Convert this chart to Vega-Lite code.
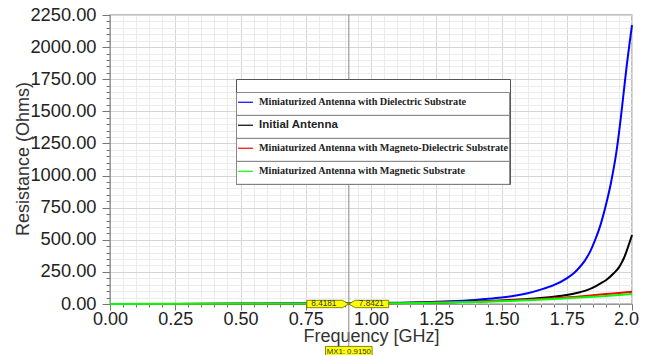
{
  "$schema": "https://vega.github.io/schema/vega-lite/v6.json",
  "width": 522,
  "height": 289,
  "autosize": {"type": "none"},
  "padding": {"left": 110, "top": 15, "right": 29, "bottom": 51},
  "background": "white",
  "config": {"view": {"stroke": "#aaaaaa", "strokeWidth": 1.5}},
  "datasets": {
    "curves": [
      {"s": "Miniaturized Antenna with Dielectric Substrate", "f": 0, "r": 0},
      {"s": "Miniaturized Antenna with Dielectric Substrate", "f": 0.25, "r": 0.5},
      {"s": "Miniaturized Antenna with Dielectric Substrate", "f": 0.5, "r": 1.5},
      {"s": "Miniaturized Antenna with Dielectric Substrate", "f": 0.75, "r": 3.5},
      {"s": "Miniaturized Antenna with Dielectric Substrate", "f": 1.0, "r": 7},
      {"s": "Miniaturized Antenna with Dielectric Substrate", "f": 1.1, "r": 10},
      {"s": "Miniaturized Antenna with Dielectric Substrate", "f": 1.2, "r": 14},
      {"s": "Miniaturized Antenna with Dielectric Substrate", "f": 1.3, "r": 21},
      {"s": "Miniaturized Antenna with Dielectric Substrate", "f": 1.4, "r": 32},
      {"s": "Miniaturized Antenna with Dielectric Substrate", "f": 1.45, "r": 40},
      {"s": "Miniaturized Antenna with Dielectric Substrate", "f": 1.5, "r": 50},
      {"s": "Miniaturized Antenna with Dielectric Substrate", "f": 1.55, "r": 64},
      {"s": "Miniaturized Antenna with Dielectric Substrate", "f": 1.6, "r": 84},
      {"s": "Miniaturized Antenna with Dielectric Substrate", "f": 1.65, "r": 112},
      {"s": "Miniaturized Antenna with Dielectric Substrate", "f": 1.7, "r": 147},
      {"s": "Miniaturized Antenna with Dielectric Substrate", "f": 1.75, "r": 200},
      {"s": "Miniaturized Antenna with Dielectric Substrate", "f": 1.78, "r": 245},
      {"s": "Miniaturized Antenna with Dielectric Substrate", "f": 1.8, "r": 288},
      {"s": "Miniaturized Antenna with Dielectric Substrate", "f": 1.82, "r": 340},
      {"s": "Miniaturized Antenna with Dielectric Substrate", "f": 1.84, "r": 410},
      {"s": "Miniaturized Antenna with Dielectric Substrate", "f": 1.86, "r": 505},
      {"s": "Miniaturized Antenna with Dielectric Substrate", "f": 1.88, "r": 620},
      {"s": "Miniaturized Antenna with Dielectric Substrate", "f": 1.9, "r": 770},
      {"s": "Miniaturized Antenna with Dielectric Substrate", "f": 1.92, "r": 950},
      {"s": "Miniaturized Antenna with Dielectric Substrate", "f": 1.94, "r": 1180},
      {"s": "Miniaturized Antenna with Dielectric Substrate", "f": 1.95, "r": 1330},
      {"s": "Miniaturized Antenna with Dielectric Substrate", "f": 1.96, "r": 1500},
      {"s": "Miniaturized Antenna with Dielectric Substrate", "f": 1.97, "r": 1680},
      {"s": "Miniaturized Antenna with Dielectric Substrate", "f": 1.98, "r": 1860},
      {"s": "Miniaturized Antenna with Dielectric Substrate", "f": 1.99, "r": 2020},
      {"s": "Miniaturized Antenna with Dielectric Substrate", "f": 2.0, "r": 2172},
      {"s": "Initial Antenna", "f": 0, "r": 0},
      {"s": "Initial Antenna", "f": 0.25, "r": 0.3},
      {"s": "Initial Antenna", "f": 0.5, "r": 1},
      {"s": "Initial Antenna", "f": 0.75, "r": 2.5},
      {"s": "Initial Antenna", "f": 1.0, "r": 5},
      {"s": "Initial Antenna", "f": 1.1, "r": 7},
      {"s": "Initial Antenna", "f": 1.2, "r": 10},
      {"s": "Initial Antenna", "f": 1.3, "r": 14},
      {"s": "Initial Antenna", "f": 1.4, "r": 20},
      {"s": "Initial Antenna", "f": 1.5, "r": 28},
      {"s": "Initial Antenna", "f": 1.55, "r": 33},
      {"s": "Initial Antenna", "f": 1.6, "r": 39},
      {"s": "Initial Antenna", "f": 1.66, "r": 49},
      {"s": "Initial Antenna", "f": 1.7, "r": 57},
      {"s": "Initial Antenna", "f": 1.75, "r": 70},
      {"s": "Initial Antenna", "f": 1.8, "r": 92},
      {"s": "Initial Antenna", "f": 1.83, "r": 110},
      {"s": "Initial Antenna", "f": 1.86, "r": 138},
      {"s": "Initial Antenna", "f": 1.88, "r": 161},
      {"s": "Initial Antenna", "f": 1.9, "r": 185},
      {"s": "Initial Antenna", "f": 1.93, "r": 239},
      {"s": "Initial Antenna", "f": 1.95, "r": 285},
      {"s": "Initial Antenna", "f": 1.96, "r": 320},
      {"s": "Initial Antenna", "f": 1.97, "r": 362},
      {"s": "Initial Antenna", "f": 1.98, "r": 415},
      {"s": "Initial Antenna", "f": 1.99, "r": 475},
      {"s": "Initial Antenna", "f": 2.0, "r": 537},
      {"s": "Miniaturized Antenna with Magneto-Dielectric Substrate", "f": 0, "r": 0},
      {"s": "Miniaturized Antenna with Magneto-Dielectric Substrate", "f": 0.5, "r": 1},
      {"s": "Miniaturized Antenna with Magneto-Dielectric Substrate", "f": 0.75, "r": 2},
      {"s": "Miniaturized Antenna with Magneto-Dielectric Substrate", "f": 1.0, "r": 4.5},
      {"s": "Miniaturized Antenna with Magneto-Dielectric Substrate", "f": 1.2, "r": 9},
      {"s": "Miniaturized Antenna with Magneto-Dielectric Substrate", "f": 1.3, "r": 13},
      {"s": "Miniaturized Antenna with Magneto-Dielectric Substrate", "f": 1.4, "r": 18},
      {"s": "Miniaturized Antenna with Magneto-Dielectric Substrate", "f": 1.47, "r": 23},
      {"s": "Miniaturized Antenna with Magneto-Dielectric Substrate", "f": 1.5, "r": 25},
      {"s": "Miniaturized Antenna with Magneto-Dielectric Substrate", "f": 1.6, "r": 34},
      {"s": "Miniaturized Antenna with Magneto-Dielectric Substrate", "f": 1.7, "r": 45},
      {"s": "Miniaturized Antenna with Magneto-Dielectric Substrate", "f": 1.8, "r": 59},
      {"s": "Miniaturized Antenna with Magneto-Dielectric Substrate", "f": 1.85, "r": 68},
      {"s": "Miniaturized Antenna with Magneto-Dielectric Substrate", "f": 1.9, "r": 77},
      {"s": "Miniaturized Antenna with Magneto-Dielectric Substrate", "f": 1.95, "r": 86},
      {"s": "Miniaturized Antenna with Magneto-Dielectric Substrate", "f": 2.0, "r": 96},
      {"s": "Miniaturized Antenna with Magnetic Substrate", "f": 0, "r": 0},
      {"s": "Miniaturized Antenna with Magnetic Substrate", "f": 0.5, "r": 1},
      {"s": "Miniaturized Antenna with Magnetic Substrate", "f": 0.75, "r": 2},
      {"s": "Miniaturized Antenna with Magnetic Substrate", "f": 1.0, "r": 4},
      {"s": "Miniaturized Antenna with Magnetic Substrate", "f": 1.2, "r": 8.5},
      {"s": "Miniaturized Antenna with Magnetic Substrate", "f": 1.3, "r": 12},
      {"s": "Miniaturized Antenna with Magnetic Substrate", "f": 1.4, "r": 16},
      {"s": "Miniaturized Antenna with Magnetic Substrate", "f": 1.47, "r": 20},
      {"s": "Miniaturized Antenna with Magnetic Substrate", "f": 1.5, "r": 22},
      {"s": "Miniaturized Antenna with Magnetic Substrate", "f": 1.6, "r": 29},
      {"s": "Miniaturized Antenna with Magnetic Substrate", "f": 1.72, "r": 41},
      {"s": "Miniaturized Antenna with Magnetic Substrate", "f": 1.85, "r": 57},
      {"s": "Miniaturized Antenna with Magnetic Substrate", "f": 1.9, "r": 63},
      {"s": "Miniaturized Antenna with Magnetic Substrate", "f": 1.95, "r": 70},
      {"s": "Miniaturized Antenna with Magnetic Substrate", "f": 2.0, "r": 78}
    ],
    "marker": [
      {"f": 0.915, "r": 0, "left": "8.4181", "right": "7.8421", "mx": "MX1: 0.9150"}
    ]
  },
  "resolve": {"axis": {"x": "independent", "y": "independent"}},
  "layer": [
    {
      "data": {"name": "curves"},
      "mark": {"type": "line", "strokeWidth": 2, "interpolate": "monotone"},
      "encoding": {
        "x": {
          "field": "f", "type": "quantitative",
          "scale": {"domain": [0, 2], "nice": false, "zero": false},
          "axis": {
            "orient": "bottom",
            "values": [0,0.05,0.1,0.15,0.2,0.25,0.3,0.35,0.4,0.45,0.5,0.55,0.6,0.65,0.7,0.75,0.8,0.85,0.9,0.95,1,1.05,1.1,1.15,1.2,1.25,1.3,1.35,1.4,1.45,1.5,1.55,1.6,1.65,1.7,1.75,1.8,1.85,1.9,1.95,2],
            "labels": false, "domain": false, "title": null,
            "tickSize": 3, "tickColor": "#777777",
            "grid": true, "gridColor": "#ececec"
          }
        },
        "y": {
          "field": "r", "type": "quantitative",
          "scale": {"domain": [0, 2250], "nice": false},
          "axis": {
            "orient": "left",
            "values": [0,50,100,150,200,250,300,350,400,450,500,550,600,650,700,750,800,850,900,950,1000,1050,1100,1150,1200,1250,1300,1350,1400,1450,1500,1550,1600,1650,1700,1750,1800,1850,1900,1950,2000,2050,2100,2150,2200,2250],
            "labels": false, "domain": false, "title": null,
            "tickSize": 4, "tickColor": "#777777",
            "grid": true, "gridColor": "#ececec"
          }
        },
        "color": {
          "field": "s", "type": "nominal",
          "scale": {
            "domain": ["Miniaturized Antenna with Dielectric Substrate", "Initial Antenna", "Miniaturized Antenna with Magneto-Dielectric Substrate", "Miniaturized Antenna with Magnetic Substrate"],
            "range": ["#0000ff", "#000000", "#ff0000", "#00ff00"]
          },
          "legend": {
            "orient": "none", "legendX": 126, "legendY": 64,
            "title": " ", "titleFontSize": 10, "titlePadding": 3,
            "padding": 0,
            "fillColor": "white", "strokeColor": "#555555",
            "symbolType": "M0,-0.92M-0.71,0L0.71,0M0,0.92", "symbolSize": 441, "symbolStrokeWidth": 1.2,
            "symbolFillColor": "transparent",
            "labelFont": "Liberation Serif", "labelFontWeight": "bold", "labelFontSize": 10.2,
            "labelColor": "#222222", "labelLimit": 400, "labelOffset": 6,
            "rowPadding": -9.5,
            "encode": {
              "entries": {
                "update": {
                  "stroke": {"value": "#8a8a8a"},
                  "strokeWidth": {"value": 1},
                  "width": {"value": 273},
                  "height": {"value": 20.5}
                }
              },
              "symbols": {
                "update": {"y": {"value": 10.25}, "x": {"value": 9.5}}
              },
              "labels": {
                "update": {
                  "y": {"value": 10.25},
                  "x": {"value": 23},
                  "font": {"signal": "datum.label === 'Initial Antenna' ? 'Liberation Sans' : 'Liberation Serif'"},
                  "fontSize": {"signal": "datum.label === 'Initial Antenna' ? 11.5 : 10.2"}
                }
              }
            }
          }
        }
      }
    },
    {
      "data": {"name": "marker"},
      "mark": {"type": "rule", "color": "#8a8a8a", "strokeWidth": 1, "y2Offset": 43},
      "encoding": {
        "x": {"field": "f", "type": "quantitative", "scale": {"domain": [0, 2], "nice": false, "zero": false}, "axis": null},
        "y": {"datum": 2250, "type": "quantitative", "scale": {"domain": [0, 2250], "nice": false}, "axis": null},
        "y2": {"datum": 0}
      }
    },
    {
      "data": {"name": "marker"},
      "mark": {"type": "point", "shape": "M-2,-0.175L-0.31,-0.175L0,0L-0.31,0.175L-2,0.175Z", "size": 1764, "filled": true, "fill": "#ffff00", "stroke": "#666600", "strokeWidth": 0.8, "opacity": 1},
      "encoding": {
        "x": {
          "field": "f", "type": "quantitative",
          "scale": {"domain": [0, 2], "nice": false, "zero": false},
          "axis": {
            "orient": "bottom",
            "values": [0, 0.25, 0.5, 0.75, 1, 1.25, 1.5, 1.75, 2],
            "format": ".2f",
            "labelExpr": "datum.value == 2 ? '2.0' : datum.label",
            "labelFont": "Liberation Sans", "labelFontSize": 18, "labelColor": "#222222",
            "labelBaseline": "alphabetic", "labelPadding": 14.6,
            "labelOffset": {"condition": {"test": "datum.value == 2", "value": -6}, "value": 0},
            "labelFlush": false, "labelOverlap": false,
            "tickSize": 6, "tickColor": "#777777",
            "domainColor": "#999999",
            "grid": true, "gridColor": "#d6d6d6",
            "title": "Frequency [GHz]", "titleFont": "Liberation Sans", "titleFontSize": 18,
            "titleFontWeight": "normal", "titleColor": "#333333",
            "titleBaseline": "alphabetic", "titleY": 37.5
          }
        },
        "y": {
          "field": "r", "type": "quantitative",
          "scale": {"domain": [0, 2250], "nice": false},
          "axis": {
            "orient": "left",
            "values": [0, 250, 500, 750, 1000, 1250, 1500, 1750, 2000, 2250],
            "format": ".2f",
            "labelFont": "Liberation Sans", "labelFontSize": 18.3, "labelColor": "#222222",
            "labelPadding": 6, "labelFlush": false, "labelOverlap": false,
            "tickSize": 8, "tickColor": "#777777",
            "domainColor": "#999999",
            "grid": true, "gridColor": "#d6d6d6",
            "title": "Resistance (Ohms)", "titleFont": "Liberation Sans", "titleFontSize": 18,
            "titleFontWeight": "normal", "titleColor": "#333333",
            "titleX": -78, "titleY": 143.5, "titleAngle": 270,
            "titleBaseline": "bottom", "titleAlign": "center"
          }
        }
      }
    },
    {
      "data": {"name": "marker"},
      "mark": {"type": "point", "shape": "M0,0L0.31,-0.175L1.9,-0.175L1.9,0.175L0.31,0.175Z", "size": 1764, "filled": true, "fill": "#ffff00", "stroke": "#666600", "strokeWidth": 0.8, "opacity": 1},
      "encoding": {
        "x": {"field": "f", "type": "quantitative", "scale": {"domain": [0, 2], "nice": false, "zero": false}, "axis": null},
        "y": {"field": "r", "type": "quantitative", "scale": {"domain": [0, 2250], "nice": false}, "axis": null}
      }
    },
    {
      "data": {"name": "marker"},
      "mark": {"type": "point", "shape": "M-1.11,2.02L1.11,2.02L1.11,2.5L-1.11,2.5Z", "size": 1764, "filled": true, "fill": "#ffff00", "stroke": "#666600", "strokeWidth": 0.8, "opacity": 1},
      "encoding": {
        "x": {"field": "f", "type": "quantitative", "scale": {"domain": [0, 2], "nice": false, "zero": false}, "axis": null},
        "y": {"field": "r", "type": "quantitative", "scale": {"domain": [0, 2250], "nice": false}, "axis": null}
      }
    },
    {
      "data": {"name": "marker"},
      "mark": {"type": "text", "dx": -25, "font": "Liberation Sans", "fontSize": 8.2, "color": "#333333", "baseline": "middle", "align": "center"},
      "encoding": {
        "x": {"field": "f", "type": "quantitative", "scale": {"domain": [0, 2], "nice": false, "zero": false}, "axis": null},
        "y": {"field": "r", "type": "quantitative", "scale": {"domain": [0, 2250], "nice": false}, "axis": null},
        "text": {"field": "left"}
      }
    },
    {
      "data": {"name": "marker"},
      "mark": {"type": "text", "dx": 22.5, "font": "Liberation Sans", "fontSize": 8.2, "color": "#333333", "baseline": "middle", "align": "center"},
      "encoding": {
        "x": {"field": "f", "type": "quantitative", "scale": {"domain": [0, 2], "nice": false, "zero": false}, "axis": null},
        "y": {"field": "r", "type": "quantitative", "scale": {"domain": [0, 2250], "nice": false}, "axis": null},
        "text": {"field": "right"}
      }
    },
    {
      "data": {"name": "marker"},
      "mark": {"type": "text", "dy": 47.5, "font": "Liberation Sans", "fontSize": 7.8, "color": "#333333", "baseline": "middle", "align": "center"},
      "encoding": {
        "x": {"field": "f", "type": "quantitative", "scale": {"domain": [0, 2], "nice": false, "zero": false}, "axis": null},
        "y": {"field": "r", "type": "quantitative", "scale": {"domain": [0, 2250], "nice": false}, "axis": null},
        "text": {"field": "mx"}
      }
    }
  ]
}
